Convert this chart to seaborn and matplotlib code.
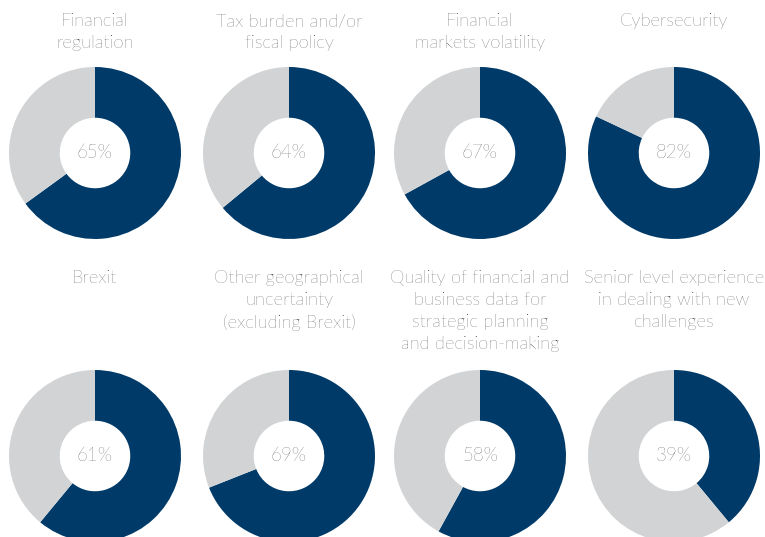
import matplotlib
matplotlib.use("Agg")
import matplotlib.pyplot as plt
import seaborn as sns

# Data
# -------------------------------------------------------------
TITLES = [
    "Financial\nregulation",
    "Tax burden and/or\nfiscal policy",
    "Financial\nmarkets volatility",
    "Cybersecurity",
    "Brexit",
    "Other geographical\nuncertainty\n(excluding Brexit)",
    "Quality of financial and\nbusiness data for\nstrategic planning\nand decision-making",
    "Senior level experience\nin dealing with new\nchallenges",
]
SHARES = [65, 64, 67, 82, 61, 69, 58, 39]

NAVY = "#003a68"
GREY = "#d1d3d4"
TEXT_COLOR = "#1a1a1a"

sns.set_theme(style="white")
plt.rcParams["font.family"] = ["Lato", "DejaVu Sans"]

W, H = 765, 537
fig = plt.figure(figsize=(W / 100, H / 100), dpi=100)

# layout in pixels
col_x = [95, 289, 480, 674]
row_y = [153, 456]
title_y = [13, 270]
R = 86  # donut radius

for i, (title, share) in enumerate(zip(TITLES, SHARES)):
    r, c = divmod(i, 4)
    cx, cy = col_x[c], row_y[r]
    ax = fig.add_axes([(cx - R) / W, 1 - (cy + R) / H, 2 * R / W, 2 * R / H])
    ax.pie([share, 100 - share], colors=[NAVY, GREY], startangle=90,
           counterclock=False, radius=1,
           wedgeprops=dict(width=0.59, linewidth=0))
    ax.set_xlim(-1, 1)
    ax.set_ylim(-1, 1)
    ax.set_aspect("equal")
    ax.axis("off")
    ax.text(0, 0, f"{share}%", ha="center", va="center", fontsize=13.5,
            color=TEXT_COLOR, fontweight="light")
    fig.text(cx / W, 1 - title_y[r] / H, title, ha="center", va="top",
             fontsize=13.2, color=TEXT_COLOR, fontweight="light",
             linespacing=1.45)

fig.savefig("out.png", dpi=100)
